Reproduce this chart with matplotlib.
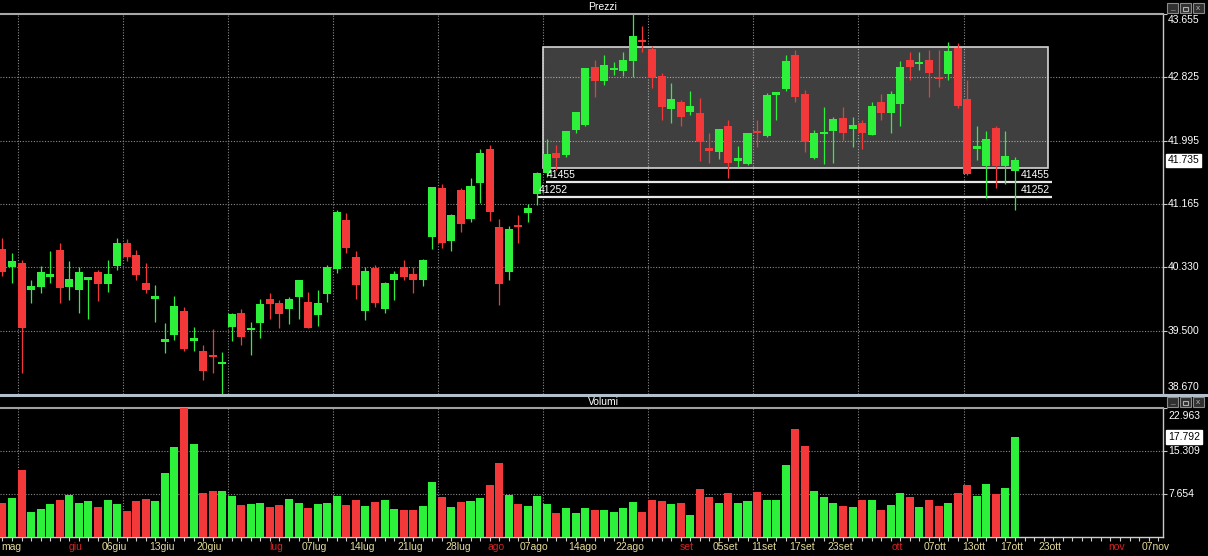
import numpy as np
import matplotlib.pyplot as plt
from matplotlib.patches import Rectangle
from matplotlib.lines import Line2D
from matplotlib.transforms import blended_transform_factory

plt.rcParams['font.family'] = ['Liberation Sans', 'DejaVu Sans']

# dati giornalieri (21 mag - 17 ott)
opens = [40.57, 40.34, 40.39, 40.03, 40.07, 40.21, 40.56, 40.08, 40.03, 40.17,
         40.27, 40.11, 40.35, 40.65, 40.50, 40.13, 39.92, 39.35, 39.44, 39.76,
         39.37, 39.23, 39.18, 39.07, 39.55, 39.73, 39.51, 39.60, 39.91, 39.87,
         39.79, 39.94, 39.88, 39.71, 39.98, 40.31, 40.95, 40.47, 39.76, 40.32,
         39.79, 40.17, 40.33, 40.25, 40.16, 40.73, 41.37, 40.68, 41.35, 40.97,
         41.44, 41.89, 40.86, 40.27, 40.89, 41.05, 41.30, 41.57, 41.83, 41.81,
         42.13, 42.20, 42.96, 42.77, 42.92, 42.91, 43.04, 43.32, 43.19, 42.84,
         42.41, 42.50, 42.37, 42.36, 41.90, 41.85, 42.19, 41.73, 41.69, 42.12,
         42.05, 42.59, 42.67, 43.12, 42.61, 41.76, 42.08, 42.12, 42.29, 42.14,
         42.23, 42.07, 42.50, 42.36, 42.47, 43.05, 43.00, 43.05, 42.83, 42.87,
         43.21, 42.54, 41.89, 41.66, 42.16, 41.66, 41.60]
highs = [40.71, 40.52, 40.43, 40.16, 40.35, 40.55, 40.65, 40.41, 40.34, 40.21,
         40.30, 40.43, 40.71, 40.70, 40.56, 40.39, 40.10, 39.60, 39.96, 39.81,
         39.55, 39.31, 39.52, 39.22, 39.73, 39.79, 39.62, 39.91, 40.00, 39.90,
         39.94, 40.17, 40.01, 40.04, 40.36, 41.08, 41.04, 40.54, 40.33, 40.36,
         40.14, 40.28, 40.43, 40.34, 40.44, 41.39, 41.42, 41.03, 41.37, 41.51,
         41.89, 41.94, 40.96, 40.87, 41.02, 41.16, 41.58, 42.02, 41.94, 42.12,
         42.37, 42.95, 43.05, 43.12, 43.03, 43.16, 43.65, 43.50, 43.23, 42.88,
         42.75, 42.53, 42.65, 42.55, 42.09, 42.15, 42.26, 41.92, 42.10, 42.26,
         42.62, 42.63, 43.12, 43.18, 42.66, 42.13, 42.43, 42.31, 42.44, 42.30,
         42.26, 42.50, 42.60, 42.65, 43.04, 43.16, 43.16, 43.18, 43.18, 43.29,
         43.28, 42.79, 42.19, 42.12, 42.19, 42.12, 41.78]
lows = [40.22, 40.12, 38.94, 39.86, 40.00, 40.12, 39.87, 39.90, 39.73, 39.66,
        39.89, 40.01, 40.30, 40.41, 40.16, 40.00, 39.62, 39.21, 39.38, 39.24,
        39.24, 38.86, 38.94, 38.66, 39.36, 39.31, 39.18, 39.41, 39.66, 39.54,
        39.59, 39.65, 39.53, 39.56, 39.88, 40.26, 40.52, 39.91, 39.64, 39.81,
        39.73, 39.90, 40.16, 40.00, 40.09, 40.57, 40.58, 40.54, 40.80, 40.93,
        41.18, 40.94, 39.84, 40.16, 40.65, 40.92, 41.15, 41.52, 41.61, 41.78,
        42.09, 42.18, 42.57, 42.72, 42.86, 42.84, 42.83, 43.16, 42.68, 42.26,
        42.23, 42.19, 42.33, 41.73, 41.70, 41.75, 41.50, 41.65, 41.67, 41.91,
        42.04, 42.26, 42.64, 42.50, 41.85, 41.75, 41.69, 41.70, 42.00, 41.91,
        41.88, 42.07, 42.26, 42.09, 42.19, 42.79, 42.92, 42.56, 42.70, 42.79,
        42.42, 41.54, 41.74, 41.24, 41.37, 41.43, 41.09]
closes = [40.27, 40.41, 39.53, 40.09, 40.27, 40.25, 40.06, 40.18, 40.27, 40.20,
          40.11, 40.24, 40.65, 40.47, 40.23, 40.04, 39.96, 39.39, 39.82, 39.26,
          39.41, 38.97, 39.16, 39.09, 39.72, 39.42, 39.54, 39.85, 39.85, 39.72,
          39.92, 40.16, 39.54, 39.87, 40.34, 41.06, 40.58, 40.10, 40.29, 39.86,
          40.12, 40.25, 40.21, 40.16, 40.43, 41.38, 40.65, 41.02, 40.90, 41.40,
          41.83, 41.06, 40.11, 40.83, 40.86, 41.11, 41.57, 41.82, 41.76, 42.12,
          42.37, 42.95, 42.77, 42.99, 42.95, 43.05, 43.36, 43.29, 42.82, 42.43,
          42.54, 42.30, 42.45, 41.98, 41.86, 42.15, 41.70, 41.76, 42.10, 42.10,
          42.59, 42.63, 43.04, 42.56, 41.97, 42.10, 42.11, 42.28, 42.09, 42.20,
          42.09, 42.45, 42.35, 42.61, 42.96, 42.96, 43.02, 42.88, 42.80, 43.17,
          42.45, 41.56, 41.92, 42.01, 41.66, 41.79, 41.735]
volumes = [6.1, 7.0, 11.9, 4.4, 4.9, 5.8, 6.6, 7.5, 6.0, 6.4,
           5.4, 6.6, 5.8, 4.6, 6.4, 6.8, 6.4, 11.4, 16.0, 22.9,
           16.6, 7.9, 8.1, 8.2, 7.3, 5.7, 5.9, 6.0, 5.4, 5.7,
           6.8, 6.0, 5.2, 5.9, 6.0, 7.3, 5.7, 6.5, 5.5, 6.2,
           6.5, 5.0, 4.75, 4.75, 5.5, 9.8, 7.2, 5.4, 6.2, 6.35,
           7.0, 9.2, 13.1, 7.5, 5.8, 5.5, 7.3, 5.8, 4.2, 5.2,
           4.2, 5.2, 4.75, 4.75, 4.4, 5.2, 6.2, 4.4, 6.6, 6.35,
           5.8, 6.0, 3.9, 8.6, 7.2, 6.0, 7.8, 6.0, 6.35, 7.95,
           6.5, 6.5, 12.9, 19.3, 16.2, 8.2, 7.2, 6.0, 5.5, 5.4,
           6.6, 6.6, 4.75, 5.7, 7.8, 7.2, 5.4, 6.5, 5.5, 6.0,
           7.8, 9.2, 7.3, 9.5, 7.6, 8.7, 17.792]

date_labels = ['mag', 'giu', '06giu', '13giu', '20giu', 'lug', '07lug', '14lug',
               '21lug', '28lug', 'ago', '07ago', '14ago', '22ago', 'set', '05set',
               '11set', '17set', '23set', 'ott', '07ott', '13ott', '17ott', '23ott',
               'nov', '07nov']
date_idx = [1.2, 8, 12, 17, 22, 29, 33, 38, 43, 48, 52, 56, 61, 66, 72, 76,
            80, 84, 88, 94, 98, 102, 106, 110, 117, 121]
# inizio mese in rosso (tranne il primo, che e' gia' tagliato a sinistra)
red_months = ['giu', 'lug', 'ago', 'set', 'ott', 'nov']

price_ticks = [38.670, 39.500, 40.330, 41.165, 41.995, 42.825, 43.655]
vol_ticks = [7.654, 15.309, 22.963]
supports = [41.455, 41.252]
box_top, box_bottom = 43.226, 41.634
last_price = 41.735
last_vol = 17.792

GREEN = '#2cf03a'
RED = '#f23838'
GRID = '#8a8a8a'

x = np.arange(len(opens))
o = np.array(opens)
c = np.array(closes)
colors = [GREEN if cc >= oo else RED for oo, cc in zip(o, c)]

W, H = 1208, 556
fig = plt.figure(figsize=(W / 100, H / 100), dpi=100, facecolor='black')
ax = fig.add_axes([0, 162 / H, 1163 / W, 380 / H], facecolor='black')
axv = fig.add_axes([0, 19 / H, 1163 / W, 129 / H], facecolor='black')

for a in (ax, axv):
    a.set_xlim(-0.26, 121.5)
    for gx in np.arange(1.62, 101, 11):
        a.axvline(gx, color=GRID, lw=0.8, ls=(0, (1, 1.5)), zorder=0.5)
    a.spines['left'].set_visible(False)
    a.spines['right'].set_color('#c8c8c8')
    a.spines['right'].set_linewidth(1.0)
    a.yaxis.tick_right()
    a.tick_params(axis='y', colors='#c8c8c8', length=3, width=0.8, labelright=False)

# --- prezzi ---
ax.set_ylim(price_ticks[0], price_ticks[-1])
ax.set_yticks(price_ticks)
ax.set_xticks([])
for t in price_ticks[1:-1]:
    ax.axhline(t, color=GRID, lw=0.8, ls=(0, (1, 1.5)), zorder=0.5)
ax.spines['top'].set_color('#a8a8a8')
ax.spines['top'].set_linewidth(1.5)
ax.spines['bottom'].set_visible(False)

ax.add_patch(Rectangle((56.6, box_bottom), 109.5 - 56.6, box_top - box_bottom,
                       facecolor=(1, 1, 1, 0.25), edgecolor='#d4d4d4', lw=1.2, zorder=1))

ax.vlines(x, lows, highs, colors=colors, lw=0.9, zorder=3)
body = np.maximum(np.abs(c - o), 0.025)
ax.bar(x, body, bottom=np.minimum(o, c), width=0.84, color=colors, zorder=4)

ax.hlines(supports[0], 56.9, 109.9, color='#e8e8e8', lw=1.6, zorder=2)
ax.hlines(supports[1], 56.0, 109.9, color='#e8e8e8', lw=1.6, zorder=2)
for sv, x0 in zip(supports, [57.0, 56.1]):
    lab = str(int(round(sv * 1000)))
    ax.annotate(lab, (x0, sv), xytext=(0, 2), textcoords='offset pixels',
                color='white', fontsize=7.5, ha='left', va='bottom', zorder=5)
    ax.annotate(lab, (106.6, sv), xytext=(0, 2), textcoords='offset pixels',
                color='white', fontsize=7.5, ha='left', va='bottom', zorder=5)

trans = blended_transform_factory(ax.transAxes, ax.transData)
for i, t in enumerate(price_ticks):
    dy = 0
    if i == 0:
        dy = 7
    if i == len(price_ticks) - 1:
        dy = -6
    ax.annotate('%.3f' % t, (1, t), xycoords=trans, xytext=(5, dy),
                textcoords='offset pixels', color='white', fontsize=7.5,
                ha='left', va='center', annotation_clip=False)
ax.annotate('%.3f' % last_price, (1, last_price), xycoords=trans, xytext=(5, 0),
            textcoords='offset pixels', color='black', fontsize=7.5, ha='left', va='center',
            annotation_clip=False,
            bbox=dict(boxstyle='square,pad=0.15', facecolor='white', edgecolor='white'))

# --- volumi ---
axv.set_ylim(0, vol_ticks[-1])
axv.set_yticks(vol_ticks)
for t in vol_ticks[:-1]:
    axv.axhline(t, color=GRID, lw=0.8, ls=(0, (1, 1.5)), zorder=0.5)
axv.bar(x, volumes, width=0.84, color=colors, zorder=3)
axv.spines['top'].set_color('#a0a0a0')
axv.spines['top'].set_linewidth(1.5)
axv.spines['bottom'].set_color('#d0d0d0')
axv.spines['bottom'].set_linewidth(1.0)
axv.set_xticks(np.arange(0, 122))
axv.set_xticklabels([])
axv.tick_params(axis='x', colors='#d0d0d0', length=3, width=0.8, direction='out')

transv = blended_transform_factory(axv.transAxes, axv.transData)
for i, t in enumerate(vol_ticks):
    dy = -8 if i == len(vol_ticks) - 1 else 0
    axv.annotate('%.3f' % t, (1, t), xycoords=transv, xytext=(5, dy),
                 textcoords='offset pixels', color='white', fontsize=7.5,
                 ha='left', va='center', annotation_clip=False)
axv.annotate('%.3f' % last_vol, (1, last_vol), xycoords=transv, xytext=(5, 0),
             textcoords='offset pixels', color='black', fontsize=7.5, ha='left', va='center',
             annotation_clip=False,
             bbox=dict(boxstyle='square,pad=0.15', facecolor='white', edgecolor='white'))

transx = blended_transform_factory(axv.transData, axv.transAxes)
for lab, xi in zip(date_labels, date_idx):
    col = '#d82020' if lab in red_months else '#e6dc9a'
    axv.annotate(lab, (xi, 0), xycoords=transx, xytext=(-3, -10),
                 textcoords='offset pixels', color=col, fontsize=7.5,
                 ha='center', va='center', annotation_clip=False)

# titoli e separatori
fig.text(603 / W, 1 - 7 / H, 'Prezzi', color='white', fontsize=7.5, ha='center', va='center')
fig.text(603 / W, 1 - 402 / H, 'Volumi', color='white', fontsize=7.5, ha='center', va='center')
fig.add_artist(Line2D([0, 1], [1 - 394.5 / H] * 2, transform=fig.transFigure,
                      color='#b4bfcc', lw=2.2))

# pulsanti finestra
for ytop in (3, 397):
    for k, sym in enumerate(['_', '', 'x']):
        x0 = 1167 + k * 13
        fig.add_artist(Rectangle((x0 / W, 1 - (ytop + 10) / H), 11 / W, 10 / H,
                                 transform=fig.transFigure, facecolor='#303030',
                                 edgecolor='#8a8a8a', lw=0.8))
        if k == 1:
            fig.add_artist(Rectangle(((x0 + 3) / W, 1 - (ytop + 7.5) / H), 5 / W, 4 / H,
                                     transform=fig.transFigure, facecolor='none',
                                     edgecolor='#b0b0b0', lw=0.8))
        else:
            fig.text((x0 + 5.5) / W, 1 - (ytop + 5) / H, sym, color='#b0b0b0',
                     fontsize=6, ha='center', va='center')

plt.savefig('out.png', dpi=100, facecolor='black')
